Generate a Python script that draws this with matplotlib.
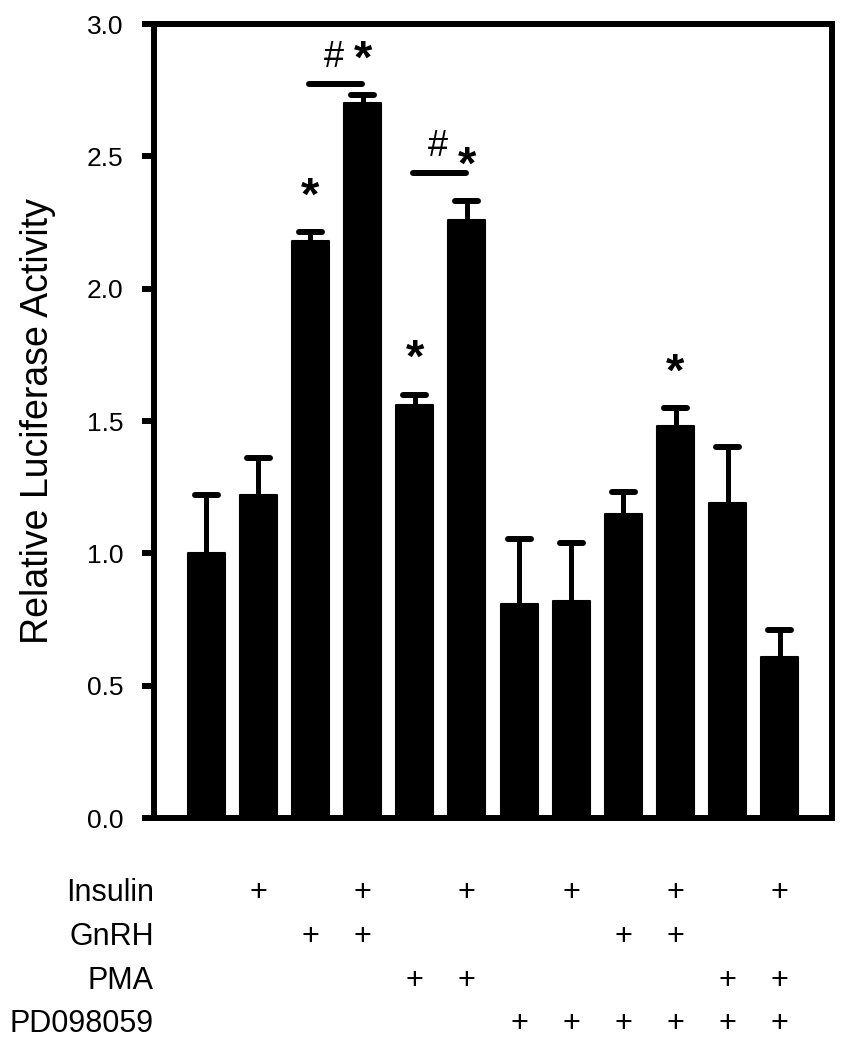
import matplotlib.pyplot as plt
import numpy as np

# bar means and upper SEM
means = [1.00, 1.22, 2.18, 2.70, 1.56, 2.26, 0.81, 0.82, 1.15, 1.48, 1.19, 0.61]
sem = [0.22, 0.14, 0.035, 0.03, 0.04, 0.07, 0.245, 0.22, 0.08, 0.07, 0.21, 0.10]

# treatment table shown below the bars (1 = "+")
treatments = ["Insulin", "GnRH", "PMA", "PD098059"]
insulin = [0, 1, 0, 1, 0, 1, 0, 1, 0, 1, 0, 1]
gnrh = [0, 0, 1, 1, 0, 0, 0, 0, 1, 1, 0, 0]
pma = [0, 0, 0, 0, 1, 1, 0, 0, 0, 0, 1, 1]
pd98059 = [0, 0, 0, 0, 0, 0, 1, 1, 1, 1, 1, 1]

star_bars = [2, 3, 4, 5, 9]
# (left bar, right bar, bracket height)
brackets = [(2, 3, 2.773), (4, 5, 2.437)]

yticks = [0.0, 0.5, 1.0, 1.5, 2.0, 2.5, 3.0]

plt.rcParams["font.family"] = ["Liberation Sans", "DejaVu Sans"]

W, H = 849, 1050
fig = plt.figure(figsize=(W / 100, H / 100), dpi=100)
ax = fig.add_axes([154 / W, 1 - 818 / H, (832 - 154) / W, (818 - 24) / H])

x = np.arange(len(means))
means = np.array(means)
sem = np.array(sem)
tops = means + sem

ax.bar(x, means, width=0.71, color="black", edgecolor="black", linewidth=1.5,
       joinstyle="round", zorder=2)
ax.vlines(x, means, tops, color="black", linewidth=3.6, zorder=2)
ax.hlines(tops, x - 0.22, x + 0.22, color="black", linewidth=4.3,
          capstyle="round", zorder=3)

for i in star_bars:
    ax.text(x[i], tops[i] + 0.13, "*", ha="center", va="center", fontsize=34,
            fontweight="bold")

for a, b, h in brackets:
    ax.hlines(h, x[a] - 0.03, x[b] - 0.02, color="black", linewidth=4.3,
              capstyle="round")
    ax.text((x[a] + x[b]) / 2 - 0.06, h + 0.1, "#", ha="center", va="center",
            fontsize=26)

ax.set_xlim(-1, len(means))
ax.set_ylim(0, 3.0)
ax.set_yticks(yticks)
ax.set_yticklabels([f"{t:.1f}" for t in yticks], fontsize=19)
ax.set_xticks([])
ax.tick_params(axis="y", direction="out", length=8.5, width=4.3, pad=13.5)
for s in ax.spines.values():
    s.set_linewidth(4.3)
    s.set_capstyle("projecting")
ax.set_ylabel("Relative Luciferase Activity", fontsize=27, labelpad=22)

# treatment rows below the axis
row_y = [893, 937, 981, 1024]
for name, flags, py in zip(treatments, [insulin, gnrh, pma, pd98059], row_y):
    fy = 1 - py / H
    fig.text(154 / W, fy, name, ha="right", va="center", fontsize=22)
    for xi, f in zip(x, flags):
        if f:
            ax.annotate("+", xy=(xi, fy), xycoords=("data", "figure fraction"),
                        ha="center", va="center", fontsize=22,
                        annotation_clip=False)

fig.savefig("out.png", dpi=100, facecolor="white")
